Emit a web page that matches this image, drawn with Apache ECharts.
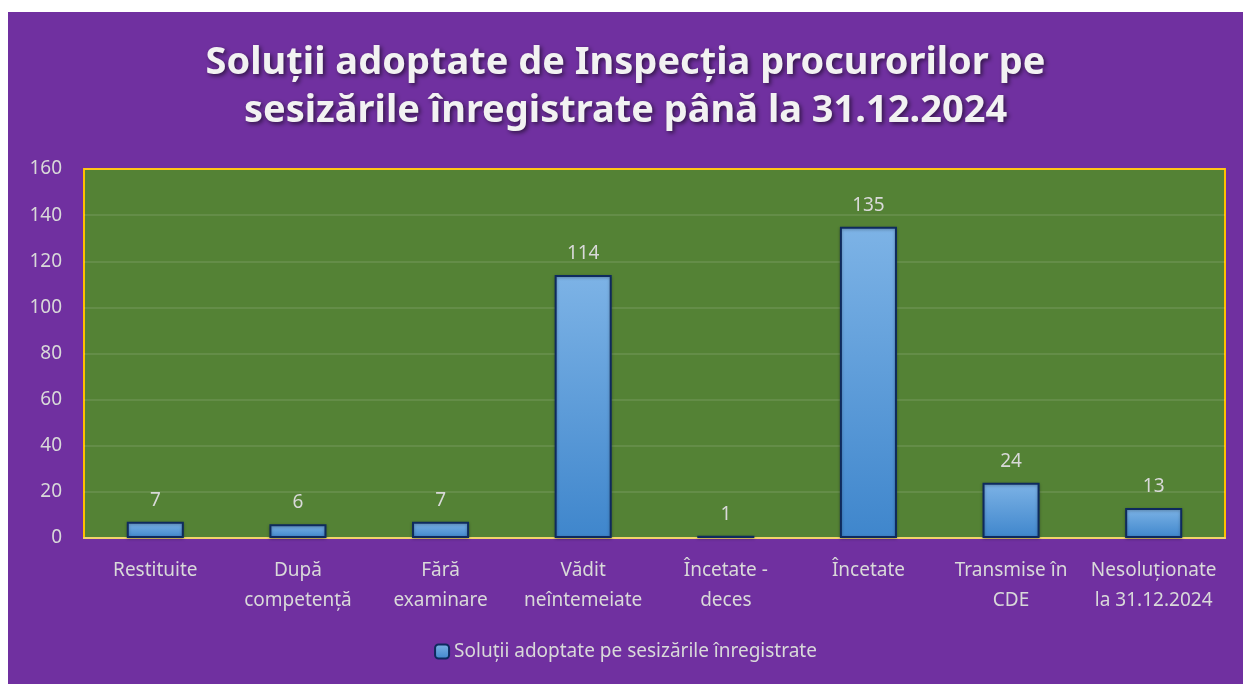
<!DOCTYPE html>
<html>
<head>
<meta charset="utf-8">
<script src="https://cdn.jsdelivr.net/npm/echarts@6/dist/echarts.min.js"></script>
<style>
  html, body { margin: 0; padding: 0; background: #fff; }
  #chart { position: absolute; left: 8px; top: 12px; width: 1235px; height: 672px; }
</style>
</head>
<body>
<div id="chart"></div>
<script>
const categories = ['Restituite', 'După\ncompetență', 'Fără\nexaminare', 'Vădit\nneîntemeiate',
  'Încetate -\ndeces', 'Încetate', 'Transmise în\nCDE', 'Nesoluționate\nla 31.12.2024'];
const values = [7, 6, 7, 114, 1, 135, 24, 13];
const seriesName = 'Soluții adoptate pe sesizările înregistrate';
const titleText = 'Soluții adoptate de Inspecția procurorilor pe\nsesizările înregistrate până la 31.12.2024';

const labelColor = '#D9D9D9';
const font = 'Noto Sans';

const chart = echarts.init(document.getElementById('chart'));
chart.setOption({
  backgroundColor: '#7030A0',
  animation: false,
  title: {
    text: titleText,
    left: 'center',
    top: 22,
    textStyle: {
      color: '#F2F2F2',
      fontFamily: font,
      fontWeight: 'bold',
      fontSize: 38,
      lineHeight: 48,
      textShadowColor: 'rgba(0,0,0,0.55)',
      textShadowBlur: 4,
      textShadowOffsetX: 2,
      textShadowOffsetY: 2
    }
  },
  legend: {
    bottom: 18,
    left: 'center',
    itemWidth: 14,
    itemHeight: 14,
    itemGap: 4,
    textStyle: { color: labelColor, fontSize: 19, fontFamily: font },
    data: [seriesName]
  },
  grid: {
    left: 76,
    right: 18,
    top: 157,
    bottom: 146,
    show: true,
    backgroundColor: '#548235',
    borderColor: '#FFC000',
    borderWidth: 2
  },
  xAxis: {
    type: 'category',
    data: categories,
    axisLine: { show: true, lineStyle: { color: '#F2D36B', width: 2 } },
    axisTick: { show: false },
    axisLabel: {
      color: labelColor,
      fontSize: 19,
      fontFamily: font,
      lineHeight: 30,
      margin: 18,
      interval: 0
    }
  },
  yAxis: {
    type: 'value',
    min: 0,
    max: 160,
    interval: 20,
    axisLine: { show: false },
    axisTick: { show: false },
    axisLabel: { color: labelColor, fontSize: 19, fontFamily: font, margin: 22 },
    splitLine: { lineStyle: { color: 'rgba(255,255,255,0.13)', width: 1.5 } }
  },
  series: [{
    name: seriesName,
    type: 'bar',
    data: values,
    barWidth: '40%',
    itemStyle: {
      color: new echarts.graphic.LinearGradient(0, 0, 0, 1, [
        { offset: 0, color: '#7DB3E6' },
        { offset: 1, color: '#3F86CC' }
      ]),
      borderColor: '#0E2A5E',
      borderWidth: 2,
      shadowColor: 'rgba(0,0,0,0.3)',
      shadowBlur: 3,
      shadowOffsetY: 1
    },
    label: {
      show: true,
      position: 'top',
      distance: 12,
      color: labelColor,
      fontSize: 19,
      fontFamily: font
    }
  }]
});
</script>
</body>
</html>
